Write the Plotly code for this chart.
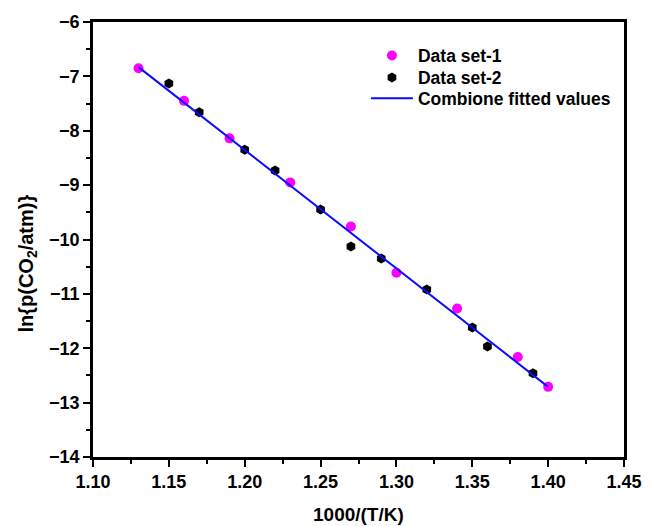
import plotly.graph_objects as go

# Data set-1 (magenta circles)
x1 = [1.13, 1.16, 1.19, 1.23, 1.27, 1.30, 1.34, 1.38, 1.40]
y1 = [-6.85, -7.45, -8.14, -8.95, -9.76, -10.61, -11.27, -12.16, -12.71]

# Data set-2 (black hexagons)
x2 = [1.15, 1.17, 1.20, 1.22, 1.25, 1.27, 1.29, 1.32, 1.35, 1.36, 1.39]
y2 = [-7.13, -7.66, -8.35, -8.73, -9.45, -10.13, -10.35, -10.92, -11.62, -11.97, -12.46]

# Combined fitted line
xfit = [1.13, 1.40]
yfit = [-6.83, -12.71]

xticks = [1.10, 1.15, 1.20, 1.25, 1.30, 1.35, 1.40, 1.45]
xticklabels = ["1.10", "1.15", "1.20", "1.25", "1.30", "1.35", "1.40", "1.45"]
yticks = [-6, -7, -8, -9, -10, -11, -12, -13, -14]

FONT = "Liberation Sans, Arial, sans-serif"

fig = go.Figure()
fig.add_trace(go.Scatter(x=x1, y=y1, mode="markers", name="Data set-1", legend="legend",
                         marker=dict(color="#ff00ff", size=10, symbol="circle",
                                     line=dict(width=0))))
fig.add_trace(go.Scatter(x=x2, y=y2, mode="markers", name="Data set-2", legend="legend2",
                         marker=dict(color="#000000", size=10, symbol="hexagon",
                                     line=dict(width=0))))
fig.add_trace(go.Scatter(x=xfit, y=yfit, mode="lines", name="Combione fitted values",
                         legend="legend3",
                         line=dict(color="#0a0aff", width=2)))

axis_common = dict(
    showline=True, linecolor="black", linewidth=2.5, mirror=True,
    ticks="outside", tickwidth=2, tickcolor="black", ticklen=7,
    showgrid=False, zeroline=False,
    tickfont=dict(family=FONT, size=18, color="black", weight="bold"),
)

fig.update_xaxes(
    range=[1.10, 1.45], tickvals=xticks, ticktext=xticklabels,
    minor=dict(ticks="outside", dtick=0.025, ticklen=4, tickwidth=2, tickcolor="black", tick0=1.10),
    **axis_common,
)
fig.update_yaxes(
    range=[-14, -6], tickvals=yticks,
    minor=dict(ticks="outside", dtick=0.5, ticklen=4, tickwidth=2, tickcolor="black", tick0=-14),
    **axis_common,
)

title_font = dict(family=FONT, size=19, color="black", weight="bold")
fig.add_annotation(text="1000/(T/K)", xref="paper", yref="paper", x=0.5, y=-0.132,
                   xanchor="center", yanchor="middle", showarrow=False, font=title_font)
fig.add_annotation(text="ln{p(CO<sub>2</sub>/atm)}", xref="paper", yref="paper",
                   x=-0.123, y=0.444, textangle=-90,
                   xanchor="center", yanchor="middle", showarrow=False,
                   font=dict(family=FONT, size=20, color="black", weight="bold"))

leg_font = dict(family=FONT, size=17.5, color="black", weight="bold")
leg_common = dict(xanchor="left", yanchor="middle", bgcolor="rgba(0,0,0,0)",
                  itemwidth=42, font=leg_font, x=0.514)

fig.update_layout(
    width=654, height=526,
    margin=dict(l=93, r=21, t=18, b=69),
    plot_bgcolor="white", paper_bgcolor="white",
    showlegend=True,
    legend=dict(y=0.9225, **leg_common),
    legend2=dict(y=0.8724, **leg_common),
    legend3=dict(y=0.8246, **leg_common),
)

fig.write_html("out.html")
